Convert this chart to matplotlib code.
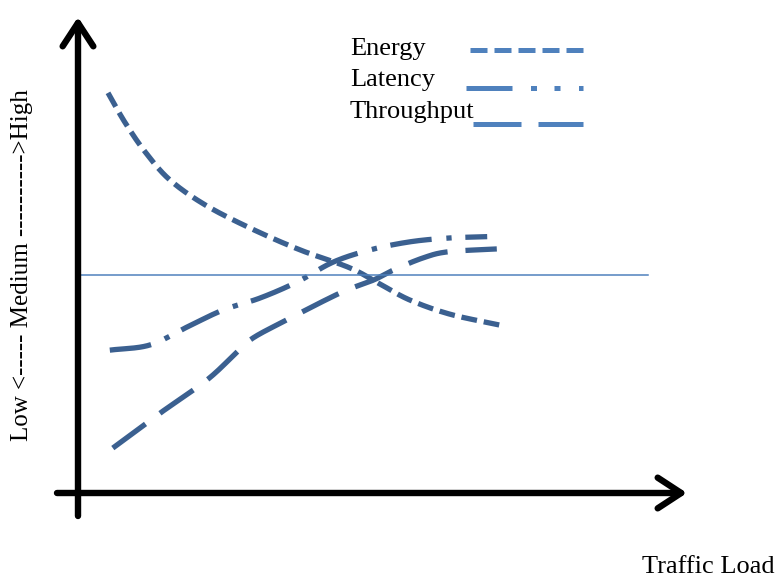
import matplotlib
matplotlib.use("Agg")
import matplotlib.pyplot as plt
import numpy as np

# ---- data (traffic load 0..100, level 0..100) ----
energy_x = [5.0, 7.8, 11.2, 15.3, 21.2, 28.7, 37.0, 45.3, 50.3, 55.3, 62.0, 70.3]
energy_y = [84.6, 78.4, 72.1, 66.2, 60.9, 56.0, 51.4, 47.6, 44.2, 40.8, 37.8, 35.5]

latency_x = [5.3, 12.0, 18.2, 24.2, 30.3, 36.5, 42.5, 48.7, 55.3, 61.7, 68.2]
latency_y = [30.2, 31.3, 35.1, 38.7, 41.2, 44.6, 48.8, 51.4, 53.1, 53.9, 54.2]

throughput_x = [5.8, 13.7, 21.5, 26.5, 29.2, 34.8, 43.7, 49.2, 52.5, 57.5, 61.7, 69.8]
throughput_y = [9.5, 16.9, 23.9, 29.8, 32.8, 36.6, 42.3, 45.0, 47.1, 49.7, 51.0, 51.6]

medium_level = 46.1
series_names = ["Energy", "Latency", "Throughput"]
xlabel = "Traffic Load"
ylabel = "Low <----- Medium ---------->High"

W, H = 780, 581
fig = plt.figure(figsize=(W / 100, H / 100), dpi=100)
ax = fig.add_axes([0, 0, 1, 1])
# px 78 -> x=0, 6 px per unit ; px 493 -> y=0, 4.73 px per unit
ax.set_xlim(-78 / 6, (W - 78) / 6)
ax.set_ylim((493 - H) / 4.73, 493 / 4.73)
ax.axis("off")

def px(x):
    return (x - 78) / 6

def py(y):
    return (493 - y) / 4.73

curve_col = "#3b6090"
leg_col = "#4f81bd"
serif = ["Liberation Serif", "DejaVu Serif"]

def catmull(xs, ys, n=30):
    # smooth curve through the read points (display-space Catmull-Rom)
    P = np.column_stack([np.asarray(xs) * 6.0, np.asarray(ys) * 4.73])
    P = np.vstack([2 * P[0] - P[1], P, 2 * P[-1] - P[-2]])
    out = []
    t = np.linspace(0, 1, n, endpoint=False)[:, None]
    for i in range(1, len(P) - 2):
        p0, p1, p2, p3 = P[i - 1], P[i], P[i + 1], P[i + 2]
        seg = 0.5 * ((2 * p1) + (-p0 + p2) * t + (2 * p0 - 5 * p1 + 4 * p2 - p3) * t ** 2
                     + (-p0 + 3 * p1 - 3 * p2 + p3) * t ** 3)
        out.append(seg)
    out.append(P[-2][None, :])
    out = np.vstack(out)
    return out[:, 0] / 6.0, out[:, 1] / 4.73

lw = 3.8
ex, ey = catmull(energy_x, energy_y)
ax.plot(ex, ey, color=curve_col, lw=lw, dashes=(3.0, 1.3))
lx, ly = catmull(latency_x, latency_y)
ax.plot(lx, ly, color=curve_col, lw=lw, dashes=(7.9, 2.8, 1.0, 2.6))
tx, ty = catmull(throughput_x, throughput_y)
ax.plot(tx, ty, color=curve_col, lw=lw, dashes=(7.7, 3.4))

# medium reference line
ax.plot([px(80), px(648)], [medium_level, medium_level], color=leg_col, lw=1.1)

# axes arrows
arrow_kw = dict(arrowstyle="->,head_length=1.3,head_width=0.85", lw=4.6,
                color="black", capstyle="round", joinstyle="round",
                shrinkA=0, shrinkB=0, mutation_scale=13)
ax.annotate("", xy=(px(78), py(17)), xytext=(px(78), py(516)), arrowprops=arrow_kw)
ax.annotate("", xy=(px(687), py(493)), xytext=(px(57), py(493)), arrowprops=arrow_kw)

# legend (manual, as in the reference)
text_y = [49, 80, 112]
line_y = [50, 88, 124]
leg_x0 = [470, 466, 473]
leg_dash = [(3.4, 1.4), (9.2, 3.7, 1.2, 3.5, 1.2, 3.7), (9.6, 3.4)]
for name, ty_, ly_, x0, d in zip(series_names, text_y, line_y, leg_x0, leg_dash):
    ax.text(px(350), py(ty_), name, fontsize=19, family=serif,
            ha="left", va="center", color="black")
    ax.plot([px(x0), px(583)], [py(ly_), py(ly_)], color=leg_col, lw=3.6,
            dashes=d)

ax.text(px(775), py(567), xlabel, fontsize=19, family=serif, ha="right",
        va="center")
ax.text(px(22), py(265), ylabel, fontsize=18, family=serif, rotation=90,
        ha="center", va="center")

fig.savefig("out.png", dpi=100)
